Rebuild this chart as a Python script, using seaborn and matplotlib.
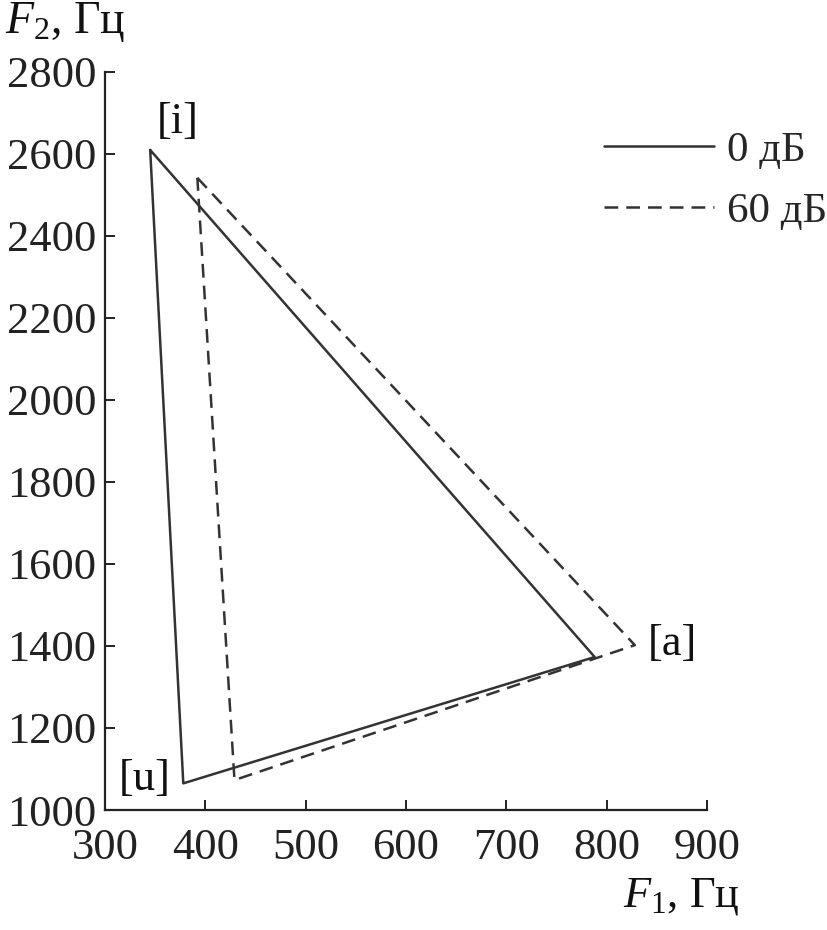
import pandas as pd
import matplotlib
matplotlib.use("Agg")
import matplotlib.pyplot as plt
import seaborn as sns
from matplotlib.lines import Line2D

# Formant triangle vertices ([i] -> [a] -> [u] -> [i])
vowels = ["[i]", "[a]", "[u]"]
f1_0db = [345, 788, 378]
f2_0db = [2609, 1373, 1065]
f1_60db = [392, 828, 429]
f2_60db = [2541, 1402, 1073]
conditions = ["0 дБ", "60 дБ"]

sns.set_theme(style="white")
plt.rcParams['font.family'] = ['Liberation Serif', 'DejaVu Serif']
plt.rcParams['mathtext.fontset'] = 'custom'
plt.rcParams['mathtext.rm'] = 'Liberation Serif'
plt.rcParams['mathtext.it'] = 'Liberation Serif:italic'

rows = []
for cond, xs, ys in [(conditions[0], f1_0db, f2_0db), (conditions[1], f1_60db, f2_60db)]:
    for i in range(len(xs) + 1):
        rows.append({'cond': cond, 'order': i, 'F1': xs[i % 3], 'F2': ys[i % 3]})
df = pd.DataFrame(rows)

fig = plt.figure(figsize=(8.27, 9.30), dpi=100)
ax = fig.add_axes([0.127, 0.129, 0.728, 0.794])

line_color = '#333333'
dash = (5.5, 3.2)
sns.lineplot(data=df, x='F1', y='F2', style='cond', sort=False, estimator=None,
             color=line_color, linewidth=1.8,
             dashes={conditions[0]: "", conditions[1]: dash},
             legend=False, ax=ax)

ax.set_xlim(300, 900)
ax.set_ylim(1000, 2800)
ax.set_xticks(range(300, 901, 100))
ax.set_yticks(range(1000, 2801, 200))
ax.set_xlabel('')
ax.set_ylabel('')
for s in ['top', 'right']:
    ax.spines[s].set_visible(False)
for s in ['left', 'bottom']:
    ax.spines[s].set_color('#222222')
    ax.spines[s].set_linewidth(1.6)
ax.tick_params(direction='in', length=7, width=1.4, colors='#222222',
               labelsize=32, pad=6, left=True, bottom=True)
ax.tick_params(axis='x', pad=13)

# vowel labels
label_pos = [(345, 2609, 5, 6, 'left'), (828, 1402, 9, 1, 'left'), (378, 1065, -9, 3, 'right')]
for v, (x, y, dx, dy, ha) in zip(vowels, label_pos):
    ax.annotate(v, (x, y), xytext=(dx, dy), textcoords='offset points',
                fontsize=32, ha=ha, va='bottom' if v == '[i]' else 'center', color='#111111')

# axis labels
fig.text(0.006, 0.976, '$F_2$, Гц', fontsize=33, ha='left', va='center', color='#111111')
fig.text(0.895, 0.036, '$F_1$, Гц', fontsize=32, ha='right', va='center', color='#111111')

handles = [Line2D([0], [0], color=line_color, lw=1.8),
           Line2D([0], [0], color=line_color, lw=1.8, dashes=dash)]
fig.legend(handles, conditions, loc='upper right', bbox_to_anchor=(1.0, 0.859),
           frameon=False, fontsize=31, handlelength=2.55, handletextpad=0.3,
           labelspacing=0.5, borderpad=0, borderaxespad=0)

fig.savefig('out.png', dpi=100, facecolor='white')
